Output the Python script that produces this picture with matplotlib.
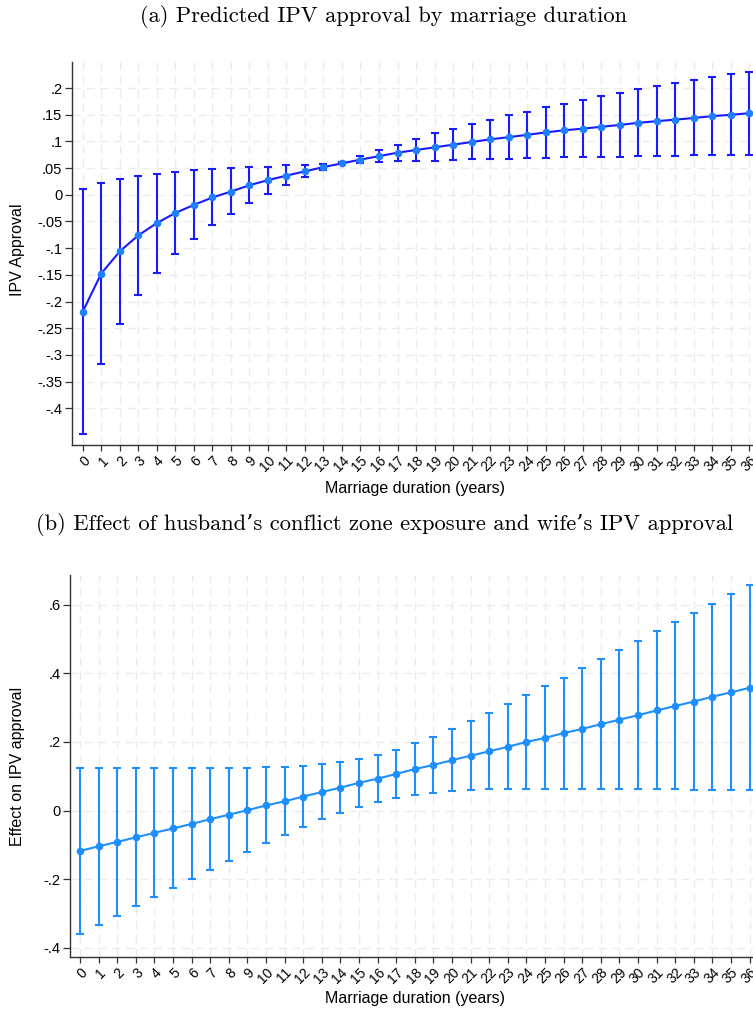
import matplotlib
matplotlib.use("Agg")
import matplotlib.pyplot as plt
import numpy as np

# ---------------- data ----------------
years = list(range(0, 37))
year_labels = [str(y) for y in years]

# Panel (a): predicted IPV approval
pred_a = [-0.219, -0.1475, -0.106, -0.076, -0.053, -0.034, -0.019, -0.005, 0.006, 0.018,
          0.0275, 0.036, 0.044, 0.052, 0.059, 0.066, 0.0725, 0.079, 0.084, 0.089,
          0.094, 0.099, 0.104, 0.108, 0.1125, 0.117, 0.121, 0.124, 0.1275, 0.131,
          0.135, 0.138, 0.141, 0.144, 0.1475, 0.150, 0.153]
upper_a = [0.011, 0.023, 0.030, 0.036, 0.039, 0.0425, 0.0456, 0.048, 0.050, 0.052,
           0.053, 0.055, 0.056, 0.0575, 0.062, 0.072, 0.084, 0.094, 0.105, 0.115,
           0.124, 0.133, 0.141, 0.149, 0.156, 0.164, 0.171, 0.178, 0.185, 0.191,
           0.1975, 0.204, 0.209, 0.215, 0.220, 0.226, 0.231]
lower_a = [-0.449, -0.3175, -0.242, -0.188, -0.146, -0.111, -0.0825, -0.0575, -0.036, -0.016,
           0.002, 0.018, 0.033, 0.047, 0.057, 0.060, 0.061, 0.063, 0.063, 0.064,
           0.066, 0.067, 0.0675, 0.068, 0.069, 0.069, 0.070, 0.070, 0.071, 0.071,
           0.072, 0.072, 0.073, 0.074, 0.074, 0.074, 0.075]
yticks_a = [0.2, 0.15, 0.1, 0.05, 0, -0.05, -0.1, -0.15, -0.2, -0.25, -0.3, -0.35, -0.4]
yticklabels_a = [".2", ".15", ".1", ".05", "0", "-.05", "-.1", "-.15", "-.2", "-.25", "-.3", "-.35", "-.4"]

# Panel (b): effect of conflict zone exposure
est_b = [-0.118, -0.104, -0.0915, -0.078, -0.065, -0.052, -0.039, -0.025, -0.012, 0.001,
         0.015, 0.027, 0.041, 0.054, 0.067, 0.081, 0.093, 0.107, 0.121, 0.133,
         0.147, 0.160, 0.173, 0.186, 0.200, 0.212, 0.226, 0.238, 0.252, 0.265,
         0.278, 0.292, 0.305, 0.318, 0.332, 0.345, 0.358]
upper_b = [0.124, 0.124, 0.123, 0.123, 0.123, 0.123, 0.123, 0.123, 0.123, 0.124,
           0.126, 0.127, 0.130, 0.135, 0.143, 0.151, 0.163, 0.177, 0.196, 0.215,
           0.237, 0.261, 0.285, 0.310, 0.336, 0.362, 0.388, 0.415, 0.441, 0.468,
           0.495, 0.523, 0.549, 0.576, 0.603, 0.632, 0.659]
lower_b = [-0.360, -0.333, -0.306, -0.278, -0.252, -0.225, -0.199, -0.172, -0.146, -0.121,
           -0.096, -0.072, -0.049, -0.026, -0.008, 0.010, 0.024, 0.037, 0.045, 0.052,
           0.056, 0.059, 0.062, 0.063, 0.064, 0.064, 0.064, 0.064, 0.064, 0.064,
           0.063, 0.063, 0.062, 0.061, 0.061, 0.060, 0.060]
yticks_b = [0.6, 0.4, 0.2, 0, -0.2, -0.4]
yticklabels_b = [".6", ".4", ".2", "0", "-.2", "-.4"]

titles = ["(a) Predicted IPV approval by marriage duration",
          "(b) Effect of husband\u2019s conflict zone exposure and wife\u2019s IPV approval"]
xlabel = "Marriage duration (years)"
ylabels = ["IPV Approval", "Effect on IPV approval"]

# ---------------- styling ----------------
W, H = 753, 1013
fig = plt.figure(figsize=(W / 100, H / 100), dpi=100)
SANS = ["Liberation Sans", "DejaVu Sans"]
SERIF = ["cmr10", "DejaVu Serif"]
plt.rcParams["font.family"] = SANS

def px_axes(left, top, right, bottom):
    return fig.add_axes([left / W, 1 - bottom / H, (right - left) / W, (bottom - top) / H])

def style(ax, yticks, ylabels_, ylim, xlim):
    ax.set_xlim(*xlim)
    ax.set_ylim(*ylim)
    ax.set_xticks(years)
    ax.set_xticklabels(year_labels, rotation=45, ha="right", va="top",
                       rotation_mode="anchor", fontsize=10)
    ax.set_yticks(yticks)
    ax.set_yticklabels(ylabels_, fontsize=10.5)
    for s in ["top", "right"]:
        ax.spines[s].set_visible(False)
    for s in ["left", "bottom"]:
        ax.spines[s].set_color("#333333")
        ax.spines[s].set_linewidth(1.0)
    ax.tick_params(axis="both", colors="#333333", labelcolor="black", width=0.9)
    ax.tick_params(axis="y", length=5, pad=2)
    ax.tick_params(axis="x", length=4, pad=2)
    ax.grid(True, color="#ececec", linewidth=1.0, linestyle=(0, (6, 4)))
    ax.set_axisbelow(True)

# ---------------- panel (a) ----------------
ax1 = px_axes(72, 62, 753, 445)
style(ax1, yticks_a, yticklabels_a, (-0.469, 0.249), (-0.58, 36.2))
pa = np.array(pred_a)
err_a = [pa - np.array(lower_a), np.array(upper_a) - pa]
ax1.errorbar(years, pred_a, yerr=err_a, fmt="none", ecolor="#1a1aff",
             elinewidth=1.5, capsize=3, capthick=1.5, zorder=2, clip_on=False)
ax1.plot(years, pred_a, color="#1a1aff", linewidth=1.5, zorder=3, clip_on=False)
ax1.plot(years, pred_a, linestyle="none", marker="o", markersize=5.5,
         color="#1e7fff", markeredgewidth=0, zorder=4, clip_on=False)

# ---------------- panel (b) ----------------
ax2 = px_axes(70, 575, 753, 957)
style(ax2, yticks_b, yticklabels_b, (-0.427, 0.687), (-0.54, 36.18))
pb = np.array(est_b)
err_b = [pb - np.array(lower_b), np.array(upper_b) - pb]
col_b = "#1e8fff"
ax2.errorbar(years, est_b, yerr=err_b, fmt="none", ecolor=col_b,
             elinewidth=1.5, capsize=3, capthick=1.5, zorder=2, clip_on=False)
ax2.plot(years, est_b, color=col_b, linewidth=1.5, marker="o", markersize=5.5,
         markeredgewidth=0, zorder=3, clip_on=False)

# ---------------- text ----------------
fig.text(384 / W, 1 - 17 / H, titles[0], ha="center", va="center",
         fontsize=16.2, family=SERIF)
fig.text(385 / W, 1 - 524 / H, titles[1], ha="center", va="center",
         fontsize=16.2, family=SERIF)
fig.text(415 / W, 1 - 488 / H, xlabel, ha="center", va="center", fontsize=11.5)
fig.text(415 / W, 1 - 998 / H, xlabel, ha="center", va="center", fontsize=11.5)
fig.text(18 / W, 1 - 250 / H, ylabels[0], ha="center", va="center",
         rotation=90, fontsize=11.5)
fig.text(18 / W, 1 - 766 / H, ylabels[1], ha="center", va="center",
         rotation=90, fontsize=11.5)

fig.savefig("out.png", dpi=100, facecolor="white")
